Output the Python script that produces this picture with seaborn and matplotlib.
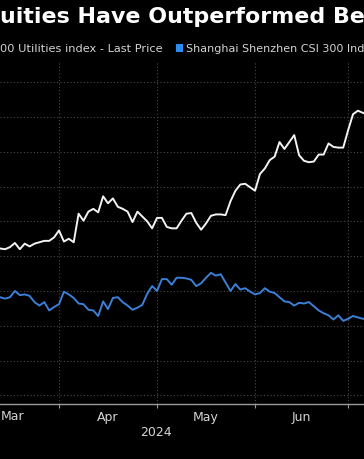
import matplotlib
matplotlib.use("Agg")
import matplotlib.pyplot as plt
import matplotlib.transforms as mtransforms
from matplotlib.patches import Rectangle
import numpy as np
import pandas as pd
import seaborn as sns

# Shanghai/Shenzhen exchange holidays inside the window
HOLIDAYS = ["2024-04-04", "2024-04-05", "2024-05-01", "2024-05-02", "2024-05-03", "2024-06-10"]
START, END = "2024-03-13", "2024-07-05"

# rebased levels, one value per trading day (Mar 13 .. Jul 5)
utilities = [
    106.3, 106.1, 106.0, 106.3, 106.9, 106.0, 106.8, 106.4, 106.8, 107.0, 107.2, 107.2, 107.7,
    108.7, 107.1, 107.5, 107.0, 111.1, 110.1, 111.4, 111.8, 111.3, 113.6, 112.6, 113.3, 112.1,
    111.8, 111.4, 109.9, 111.4, 110.7, 110.0, 109.0,
    110.5, 110.5, 109.2, 109.0, 109.0, 110.1, 111.1, 111.2, 109.8, 108.8, 109.7, 110.8, 111.0,
    111.0, 110.9, 112.9, 114.4, 115.3, 115.4, 114.9,
    114.4, 116.8, 117.6, 118.8, 119.3, 121.4, 120.4, 121.4, 122.4, 119.5, 118.7, 118.5, 118.6,
    119.6, 119.6, 121.2, 120.7, 120.6, 120.6,
    123.1, 125.4, 125.9, 125.6, 125.3,
]
csi300 = [
    99.0, 99.1, 98.9, 99.1, 100.0, 99.4, 99.5, 99.3, 98.4, 97.9, 98.4, 97.2, 97.7,
    98.1, 99.9, 99.5, 99.0, 98.2, 98.1, 97.3, 97.2, 96.4, 98.5, 97.4, 99.0, 99.1,
    98.4, 97.9, 97.3, 97.6, 98.0, 99.6, 100.7,
    100.0, 101.7, 101.7, 100.9, 101.9, 101.9, 101.8, 101.6, 100.7, 101.1, 101.9, 102.6, 102.2,
    102.4, 101.2, 100.0, 101.0, 100.2, 100.4, 99.9,
    99.5, 99.7, 100.4, 99.9, 99.7, 99.1, 98.5, 98.4, 97.9, 98.3, 98.2, 98.4, 97.8,
    97.2, 96.8, 96.5, 95.9, 96.5, 95.7,
    96.0, 96.4, 96.2, 96.0, 96.1,
]
month_starts = ["2024-03-01", "2024-04-01", "2024-05-01", "2024-06-01", "2024-07-01"]
month_labels = ["Mar", "Apr", "May", "Jun"]

title = "uities Have Outperformed Be"
legend_left = "00 Utilities index - Last Price"
legend_right = "Shanghai Shenzhen CSI 300 Ind"

WHITE = "#f2f2f2"
BLUE = "#3b7fd6"
GRID = "#4a4a4a"
TEXT = "#d4d4d4"


def trading_pos(d):
    # trading-day ordinal, Apr 1 = 0 (the chart skips non-trading days)
    return np.busday_count("2024-04-01", np.array(d, dtype="datetime64[D]"), holidays=HOLIDAYS)


def main():
    dates = pd.bdate_range(START, END, freq="C", holidays=HOLIDAYS)
    df = pd.DataFrame({"date": dates, "utilities": utilities, "csi300": csi300})
    df["pos"] = trading_pos(df["date"].values.astype("datetime64[D]"))

    sns.set_theme(style="dark")
    plt.rcParams["font.family"] = ["DejaVu Sans"]

    fig = plt.figure(figsize=(3.64, 4.6), dpi=100, facecolor="black")
    ax = fig.add_axes([0.0, 0.1196, 1.0, 0.7457])
    ax.set_facecolor("black")

    sns.lineplot(data=df, x="pos", y="csi300", color=BLUE, lw=1.4, ax=ax)
    sns.lineplot(data=df, x="pos", y="utilities", color=WHITE, lw=1.4, ax=ax)

    bounds = trading_pos(month_starts)
    centers = (bounds[:-1] + bounds[1:]) / 2
    ax.set_xticks(bounds)
    ax.set_xticklabels([])
    # first month label sits at the crop edge, drawn separately below
    ax.set_xticks(centers[1:], minor=True)
    ax.set_xticklabels(month_labels[1:], minor=True)
    ax.set_yticks(np.arange(85, 131, 5))
    ax.set_yticklabels([])

    # the visible window is a crop of the full chart
    ax.set_xlim(-12.04, 62.24)
    ax.set_ylim(83.76, 133.05)

    ax.grid(True, which="major", color=GRID, ls=(0, (1, 2)), lw=0.8)
    ax.tick_params(axis="x", which="major", length=3, width=0.8, color="#9a9a9a", direction="out", bottom=True)
    ax.tick_params(axis="x", which="minor", length=0, pad=4, labelsize=9, labelcolor=TEXT)
    ax.tick_params(axis="y", length=0)
    for side in ["top", "left", "right"]:
        ax.spines[side].set_visible(False)
    ax.spines["bottom"].set_color("#9a9a9a")
    ax.spines["bottom"].set_linewidth(1.0)
    ax.set_xlabel("")
    ax.set_ylabel("")

    ax.text(0.002, -0.033, month_labels[0], transform=ax.transAxes, ha="left", va="center",
            fontsize=9, color=TEXT)
    trans = mtransforms.blended_transform_factory(ax.transData, ax.transAxes)
    ax.text(19.8, -0.079, "2024", transform=trans, ha="center", va="center", fontsize=9, color=TEXT)

    fig.text(0.0, 1 - 17 / 460, title, ha="left", va="center", fontsize=15.9,
             fontweight="bold", color="white")
    fig.text(0.0, 1 - 48.5 / 460, legend_left, ha="left", va="center", fontsize=8.2, color=TEXT)
    fig.patches.append(Rectangle((176 / 364, 1 - 52.5 / 460), 7 / 364, 8 / 460,
                                 transform=fig.transFigure, facecolor="#2d8cf0", edgecolor="none"))
    fig.text(186 / 364, 1 - 48.5 / 460, legend_right, ha="left", va="center", fontsize=8.0, color=TEXT)

    fig.savefig("out.png", dpi=100, facecolor="black")
    plt.close(fig)


if __name__ == "__main__":
    main()
